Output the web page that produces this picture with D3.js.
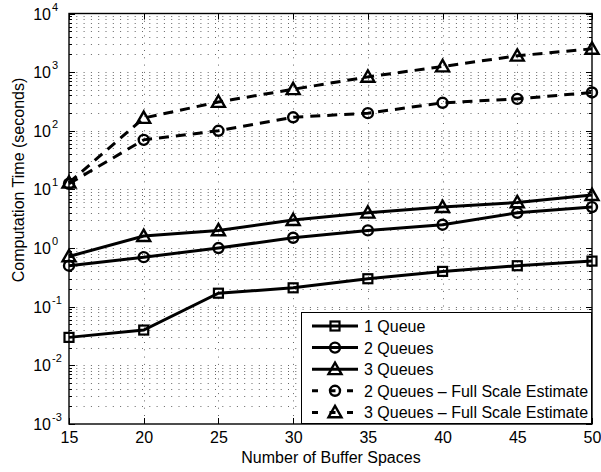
<!DOCTYPE html>
<html>
<head>
<meta charset="utf-8">
<script src="https://cdn.jsdelivr.net/npm/d3@7"></script>
<style>
  body { margin: 0; background: #fff; }
  svg { display: block; font-family: "Liberation Sans", Arial, sans-serif; }
</style>
</head>
<body>
<svg id="chart" width="601" height="472"></svg>
<script>
// Buffer sizes on the x axis
const bufferSpaces = [15, 20, 25, 30, 35, 40, 45, 50];

// Computation time (seconds) per configuration
const oneQueue   = [0.03, 0.04, 0.17, 0.21, 0.30, 0.40, 0.50, 0.60];
const twoQueues  = [0.50, 0.70, 1.0, 1.5, 2.0, 2.5, 4.0, 5.0];
const threeQueues = [0.72, 1.6, 2.0, 3.0, 4.0, 5.0, 6.0, 8.0];
const twoQueuesEst   = [12.5, 70, 100, 170, 200, 300, 350, 450];
const threeQueuesEst = [13, 165, 310, 510, 830, 1250, 1900, 2500];

const xTicks = [15, 20, 25, 30, 35, 40, 45, 50];
const yDecades = [-3, -2, -1, 0, 1, 2, 3, 4];

const seriesNames = ["1 Queue", "2 Queues", "3 Queues",
  "2 Queues \u2013 Full Scale Estimate", "3 Queues \u2013 Full Scale Estimate"];
const seriesValues = [oneQueue, twoQueues, threeQueues, twoQueuesEst, threeQueuesEst];
const seriesMarkers = ["square", "circle", "triangle", "circle", "triangle"];
const seriesDashed = [false, false, false, true, true];

const svg = d3.select("#chart");
const L = 69, R = 592, T = 13.5, B = 424;

const x = d3.scaleLinear().domain([15, 50]).range([L, R]);
const y = d3.scaleLog().domain([1e-3, 1e4]).range([B, T]);

// Log tick positions: 1..9 x 10^k
const minorVals = [];
for (let e = -3; e < 4; e++) for (let m = 1; m <= 9; m++) minorVals.push(m * Math.pow(10, e));
minorVals.push(1e4);

// Dotted grid
const grid = svg.append("g").attr("stroke", "#555").attr("stroke-width", 0.9)
  .attr("stroke-dasharray", "1,6.3");
grid.selectAll("line.h").data(minorVals.filter(v => v > 1e-3 && v < 1e4)).enter()
  .append("line")
  .attr("x1", L).attr("x2", R)
  .attr("y1", d => Math.round(y(d)) + 0.5).attr("y2", d => Math.round(y(d)) + 0.5);
grid.selectAll("line.v").data(xTicks.slice(1, -1)).enter()
  .append("line")
  .attr("x1", d => Math.round(x(d)) + 0.5).attr("x2", d => Math.round(x(d)) + 0.5)
  .attr("y1", T).attr("y2", B);

// Inside ticks, mirrored on top/right
const ticksG = svg.append("g").attr("stroke", "#000").attr("stroke-width", 1);
minorVals.forEach(v => {
  const major = Math.abs(Math.log10(v) - Math.round(Math.log10(v))) < 1e-9;
  const len = major ? 6 : 3;
  const yy = Math.round(y(v)) + 0.5;
  ticksG.append("line").attr("x1", L).attr("x2", L + len).attr("y1", yy).attr("y2", yy);
  ticksG.append("line").attr("x1", R - len).attr("x2", R).attr("y1", yy).attr("y2", yy);
});
xTicks.forEach(v => {
  const xx = Math.round(x(v)) + 0.5;
  ticksG.append("line").attr("x1", xx).attr("x2", xx).attr("y1", B).attr("y2", B - 6);
  ticksG.append("line").attr("x1", xx).attr("x2", xx).attr("y1", T).attr("y2", T + 6);
});

// Bottom axis labels
const xAxis = svg.append("g").attr("transform", `translate(0,${B})`)
  .call(d3.axisBottom(x).tickValues(xTicks).tickSize(0).tickPadding(8).tickFormat(d3.format("d")));
xAxis.select(".domain").remove();
xAxis.selectAll("text").attr("font-size", 16).attr("fill", "#000")
  .attr("font-family", "Liberation Sans, Arial, sans-serif");

// Left axis labels: 10^k
const yLab = svg.append("g").attr("font-size", 16).attr("fill", "#000");
yDecades.forEach(e => {
  yLab.append("text")
    .attr("x", 51).attr("y", y(Math.pow(10, e)) + 6)
    .attr("text-anchor", "end").text("10");
  yLab.append("text").attr("x", 52).attr("y", y(Math.pow(10, e)) - 3)
    .attr("font-size", 11).text(e);
});

// Frame
svg.append("rect").attr("x", L).attr("y", T).attr("width", R - L).attr("height", B - T)
  .attr("fill", "none").attr("stroke", "#000").attr("stroke-width", 1.4);

// Markers
function drawMarker(g, type, cx, cy) {
  if (type === "square") {
    g.append("rect").attr("x", cx - 4.5).attr("y", cy - 4.5).attr("width", 9).attr("height", 9)
      .attr("fill", "none").attr("stroke", "#000").attr("stroke-width", 2.2);
  } else if (type === "circle") {
    g.append("circle").attr("cx", cx).attr("cy", cy).attr("r", 5)
      .attr("fill", "none").attr("stroke", "#000").attr("stroke-width", 2.4);
  } else {
    const s = 6.5;
    g.append("path")
      .attr("d", `M${cx},${cy - s} L${cx + s},${cy + s * 0.75} L${cx - s},${cy + s * 0.75} Z`)
      .attr("fill", "none").attr("stroke", "#000").attr("stroke-width", 2.4).attr("stroke-linejoin", "miter");
  }
}

const line = d3.line().x((d, i) => x(bufferSpaces[i])).y(d => y(d));
const plot = svg.append("g");
seriesValues.forEach((vals, k) => {
  plot.append("path").datum(vals).attr("d", line)
    .attr("fill", "none").attr("stroke", "#000").attr("stroke-width", 3)
    .attr("stroke-dasharray", seriesDashed[k] ? "10,7" : null);
  vals.forEach((v, i) => drawMarker(plot, seriesMarkers[k], x(bufferSpaces[i]), y(v)));
});

// Legend
const lg = svg.append("g");
lg.append("rect").attr("x", 301.5).attr("y", 312.5).attr("width", 290).attr("height", 111)
  .attr("fill", "#fff").attr("stroke", "#000").attr("stroke-width", 1);
seriesNames.forEach((name, k) => {
  const cy = 326 + k * 21.6;
  lg.append("line").attr("x1", 312).attr("x2", 358).attr("y1", cy).attr("y2", cy)
    .attr("stroke", "#000").attr("stroke-width", 3)
    .attr("stroke-dasharray", seriesDashed[k] ? "6,11.5" : null);
  drawMarker(lg, seriesMarkers[k], 335, cy);
  lg.append("text").attr("x", 364).attr("y", cy + 6).attr("font-size", 16)
    .attr("fill", "#000").text(name);
});

// Axis titles
svg.append("text").attr("x", 331).attr("y", 463).attr("text-anchor", "middle")
  .attr("font-size", 16).text("Number of Buffer Spaces");
svg.append("text").attr("transform", "translate(24,180) rotate(-90)")
  .attr("text-anchor", "middle").attr("font-size", 16).text("Computation Time (seconds)");
</script>
</body>
</html>
